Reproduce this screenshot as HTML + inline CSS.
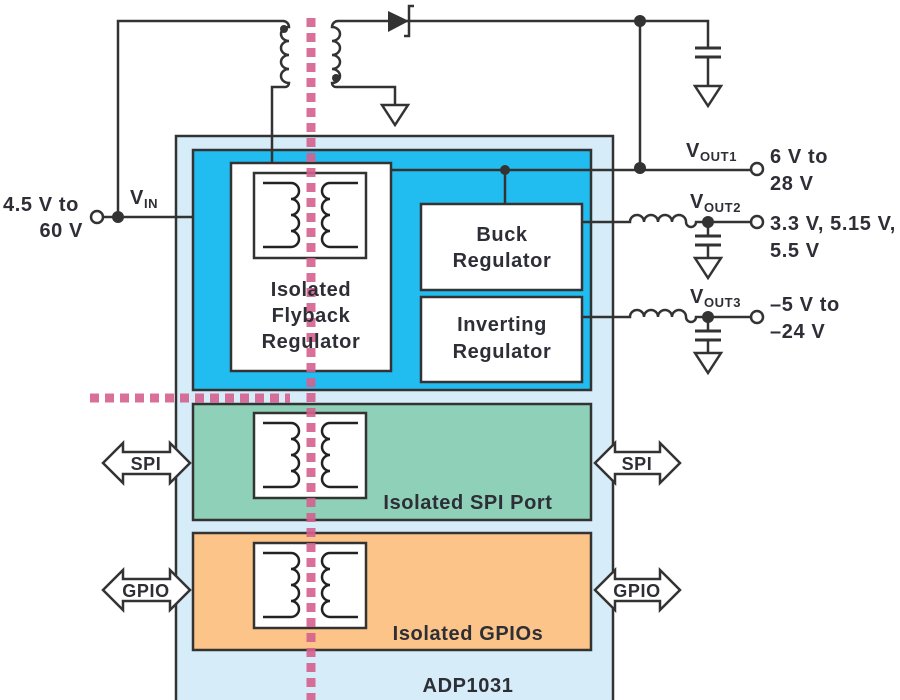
<!DOCTYPE html>
<html><head><style>
html,body{margin:0;padding:0;background:#fff;width:900px;height:700px;overflow:hidden}
text{font-family:"Liberation Sans",sans-serif;font-weight:bold;fill:#2e2e36;letter-spacing:0.6px}
</style></head><body>
<svg width="900" height="700" viewBox="0 0 900 700" xmlns="http://www.w3.org/2000/svg">
<defs>
<g id="xf">
<rect x="0" y="0" width="112" height="85" fill="#fff" stroke="#333" stroke-width="2.5"/>
<path d="M9,10 H37 a8,8 0 0 1 0,16 a8,8 0 0 1 0,16 a8,8 0 0 1 0,16 a8,8 0 0 1 0,16 H9" fill="none" stroke="#222" stroke-width="2.5"/>
<path d="M104,10 H76 a8,8 0 0 0 0,16 a8,8 0 0 0 0,16 a8,8 0 0 0 0,16 a8,8 0 0 0 0,16 H104" fill="none" stroke="#222" stroke-width="2.5"/>
</g>
<g id="gnd"><path d="M-13,0 H13 L0,20 Z" fill="#fff" stroke="#333" stroke-width="2.5"/></g>
<g id="cap"><path d="M-13,0 H13 M-13,9 H13" stroke="#333" stroke-width="3"/></g>
</defs>
<g stroke="#333" stroke-width="2.5" fill="none">
<rect x="176" y="136" width="437" height="575" fill="#d6ecf8"/>
<rect x="193" y="150" width="398" height="240" fill="#22bdf0"/>
<rect x="193" y="404" width="398" height="116" fill="#8fd0b8"/>
<rect x="193" y="533" width="398" height="117" fill="#fcc488"/>
<rect x="231" y="163" width="160" height="208" fill="#fff"/>
<rect x="421" y="204" width="161" height="86" fill="#fff"/>
<rect x="421" y="297" width="161" height="85" fill="#fff"/>
<path d="M118,217 V21 H283"/>
<path d="M104,217 H193"/>
<path d="M283,21 a6,6 0 0 1 6,6 a8,7 0 0 0 0,14 a8,7 0 0 0 0,14 a8,7 0 0 0 0,14 a8,7 0 0 0 0,14 a4,4 0 0 1 -4,4 H272 V163"/>
<path d="M338,21 a6,6 0 0 0 -6,6 a8,7 0 0 1 0,14 a8,7 0 0 1 0,14 a8,7 0 0 1 0,14 a8,7 0 0 1 0,14 a4,4 0 0 0 4,4 H395 V105"/>
<path d="M338,21 H708 V48 M708,57 V86"/>
<path d="M640,21 V168"/>
<path d="M391,170 H750"/>
<path d="M505,170 V204"/>
<path d="M582,222 H630 a7,7 0 0 1 14,0 a7,7 0 0 1 14,0 a7,7 0 0 1 14,0 a7,7 0 0 1 14,0 a5,5 0 0 0 10,0 H750"/>
<path d="M708,222 V236 M708,245 V258"/>
<path d="M582,317 H630 a7,7 0 0 1 14,0 a7,7 0 0 1 14,0 a7,7 0 0 1 14,0 a7,7 0 0 1 14,0 a5,5 0 0 0 10,0 H750"/>
<path d="M708,317 V331 M708,340 V353"/>
</g>
<use href="#cap" x="708" y="48"/>
<use href="#gnd" x="708" y="86"/>
<use href="#gnd" x="395" y="105"/>
<use href="#cap" x="708" y="236"/>
<use href="#gnd" x="708" y="258"/>
<use href="#cap" x="708" y="331"/>
<use href="#gnd" x="708" y="353"/>
<path d="M388,11 L409,21 L388,32 Z" fill="#333"/>
<path d="M414,6 H409 V36 H404" stroke="#333" stroke-width="2.5" fill="none"/>
<g fill="#333">
<circle cx="118" cy="217" r="6"/><circle cx="640" cy="21" r="6"/><circle cx="640" cy="168" r="6"/>
<circle cx="505" cy="170" r="5"/><circle cx="708" cy="222" r="6"/><circle cx="708" cy="317" r="6"/>
<circle cx="284" cy="29" r="4"/><circle cx="336" cy="78" r="4"/>
</g>
<g fill="#fff" stroke="#333" stroke-width="2.5">
<circle cx="97" cy="217" r="6"/><circle cx="757" cy="169" r="6"/><circle cx="757" cy="222" r="6"/><circle cx="757" cy="317" r="6"/>
</g>
<use href="#xf" x="254" y="173"/>
<use href="#xf" x="254" y="413"/>
<use href="#xf" x="254" y="543"/>
<path d="M311,18 V700" stroke="#d4608e" stroke-width="9" stroke-dasharray="9,6" fill="none" opacity="0.9"/>
<path d="M90,398 H290" stroke="#d4608e" stroke-width="9" stroke-dasharray="9,6" fill="none" opacity="0.9"/>
<g fill="#fff" stroke="#333" stroke-width="2.5">
<path d="M103,463 L123,443 V452 H170 V443 L190,463 L170,483 V474 H123 V483 Z"/>
<path d="M595,463 L615,443 V452 H660 V443 L680,463 L660,483 V474 H615 V483 Z"/>
<path d="M103,590 L123,570 V579 H170 V570 L190,590 L170,610 V601 H123 V610 Z"/>
<path d="M595,590 L615,570 V579 H660 V570 L680,590 L660,610 V601 H615 V610 Z"/>
</g>
<g font-size="20">
<text x="146" y="470" text-anchor="middle" font-size="18">SPI</text>
<text x="637" y="470" text-anchor="middle" font-size="18">SPI</text>
<text x="146" y="597" text-anchor="middle" font-size="18">GPIO</text>
<text x="637" y="597" text-anchor="middle" font-size="18">GPIO</text>
<text x="311" y="296" text-anchor="middle">Isolated</text>
<text x="311" y="322" text-anchor="middle">Flyback</text>
<text x="311" y="348" text-anchor="middle">Regulator</text>
<text x="502" y="241" text-anchor="middle">Buck</text>
<text x="502" y="267" text-anchor="middle">Regulator</text>
<text x="502" y="331" text-anchor="middle">Inverting</text>
<text x="502" y="358" text-anchor="middle">Regulator</text>
<text x="468" y="509" text-anchor="middle">Isolated SPI Port</text>
<text x="468" y="640" text-anchor="middle">Isolated GPIOs</text>
<text x="468" y="692" text-anchor="middle">ADP1031</text>
<text x="3" y="211">4.5 V to</text>
<text x="83" y="237" text-anchor="end">60 V</text>
<text x="130" y="204">V<tspan font-size="13" dy="4">IN</tspan></text>
<text x="686" y="157">V<tspan font-size="13" dy="4">OUT1</tspan></text>
<text x="690" y="208">V<tspan font-size="13" dy="4">OUT2</tspan></text>
<text x="690" y="303">V<tspan font-size="13" dy="4">OUT3</tspan></text>
<text x="770" y="163">6 V to</text>
<text x="770" y="190">28 V</text>
<text x="770" y="230">3.3 V, 5.15 V,</text>
<text x="770" y="257">5.5 V</text>
<text x="770" y="311">–5 V to</text>
<text x="770" y="338">–24 V</text>
</g>
</svg>
</body></html>
